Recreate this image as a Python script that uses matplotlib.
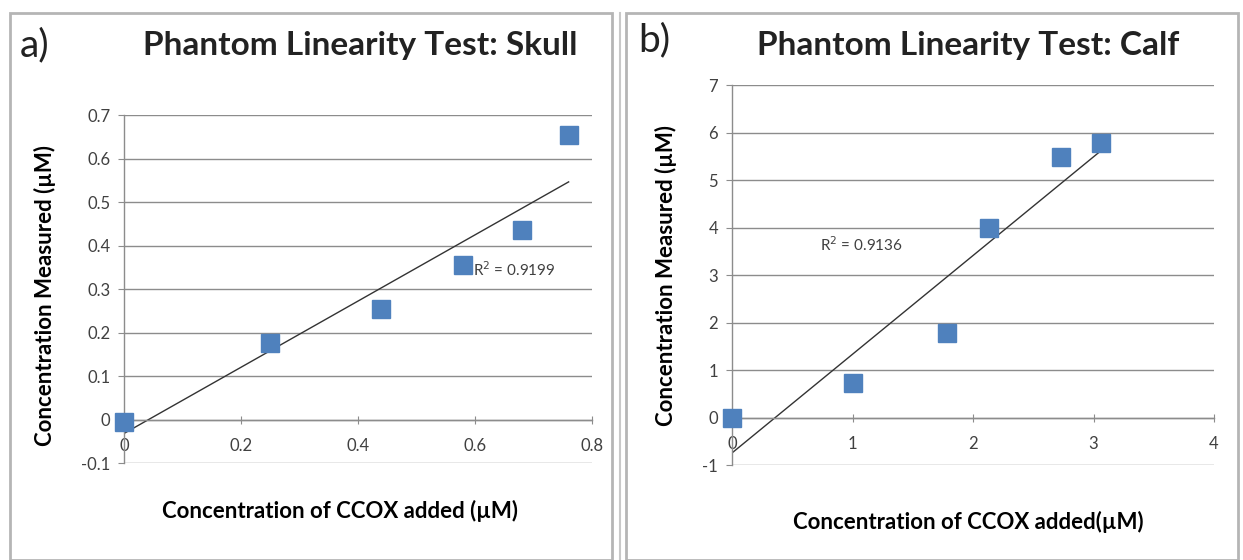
import matplotlib.pyplot as plt
from matplotlib.patches import Rectangle
import numpy as np

plt.rcParams['font.family'] = ['Lato', 'DejaVu Sans']

# skull phantom
skull_x = [0.0, 0.25, 0.44, 0.58, 0.68, 0.76]
skull_y = [-0.005, 0.175, 0.255, 0.355, 0.435, 0.655]
skull_r2 = "R$^2$ = 0.9199"

# calf phantom
calf_x = [0.0, 1.0, 1.78, 2.13, 2.73, 3.06]
calf_y = [0.0, 0.72, 1.78, 4.0, 5.48, 5.78]
calf_r2 = "R$^2$ = 0.9136"

grid_col = '#8c8c8c'
text_col = '#404040'
blue = '#4f81bd'


def style_axes(ax, xlim, ylim, xticks, yticks, xfmt):
    ax.set_xlim(*xlim)
    ax.set_ylim(*ylim)
    ax.set_xticks(xticks)
    ax.set_yticks(yticks)
    ax.set_xticklabels([xfmt(v) for v in xticks])
    ax.set_yticklabels([xfmt(v) for v in yticks])
    for s in ['top', 'right']:
        ax.spines[s].set_visible(False)
    ax.spines['left'].set_color(grid_col)
    ax.spines['bottom'].set_color(grid_col)
    ax.spines['bottom'].set_position(('data', 0))
    ax.spines['left'].set_linewidth(1)
    ax.spines['bottom'].set_linewidth(1)
    ax.yaxis.grid(True, color=grid_col, linewidth=1)
    ax.set_axisbelow(True)
    ax.tick_params(axis='y', direction='out', length=4, color=grid_col,
                   labelcolor=text_col, labelsize=12, pad=6)
    ax.tick_params(axis='x', direction='inout', length=6, color=grid_col,
                   labelcolor=text_col, labelsize=12, pad=10)
    ax.set_facecolor('none')


def fit_line(ax, x, y):
    k, b = np.polyfit(x, y, 1)
    xs = np.array([min(x), max(x)])
    ax.plot(xs, k * xs + b, color='#333333', linewidth=1, zorder=2)


fig = plt.figure(figsize=(12.43, 5.6), dpi=100)

# panel frames
fig.add_artist(Rectangle((10 / 1243, 0), 602 / 1243, 547 / 560, transform=fig.transFigure,
                         fill=False, edgecolor='#b5b5b5', linewidth=2))
fig.add_artist(Rectangle((626 / 1243, 0), 612 / 1243, 547 / 560, transform=fig.transFigure,
                         fill=False, edgecolor='#b5b5b5', linewidth=2))
fig.add_artist(plt.Line2D([620 / 1243, 620 / 1243], [0, 547 / 560], transform=fig.transFigure,
                          color='#c8c8c8', linewidth=1.5))

# a) skull
ax1 = fig.add_axes([0.0998, 0.1732, 0.3765, 0.6214])
style_axes(ax1, (0, 0.8), (-0.1, 0.7), [0, 0.2, 0.4, 0.6, 0.8],
           [-0.1, 0, 0.1, 0.2, 0.3, 0.4, 0.5, 0.6, 0.7],
           lambda v: '0' if v == 0 else f'{v:g}')
fit_line(ax1, skull_x, skull_y)
ax1.plot(skull_x, skull_y, 's', color=blue, markersize=13.5, zorder=3, clip_on=False)
ax1.text(0.597, 0.345, skull_r2, fontsize=11, color=text_col, va='center')
ax1.set_ylabel('Concentration Measured (µM)', fontsize=16, fontweight='bold')
ax1.yaxis.set_label_coords(-0.145, 0.48)
ax1.set_xlabel('Concentration of CCOX added (µM)', fontsize=16, fontweight='bold')
ax1.xaxis.set_label_coords(0.462, -0.105)

fig.text(20 / 1243, 1 - 45 / 560, 'a)', fontsize=28, va='center', color='#222222')
fig.text(360 / 1243, 1 - 45 / 560, 'Phantom Linearity Test: Skull', fontsize=24,
         fontweight='bold', ha='center', va='center', color='#222222')

# b) calf
ax2 = fig.add_axes([0.5889, 0.1696, 0.3878, 0.6786])
style_axes(ax2, (0, 4), (-1, 7), [0, 1, 2, 3, 4], list(range(-1, 8)),
           lambda v: f'{v:g}')
fit_line(ax2, calf_x, calf_y)
ax2.plot(calf_x, calf_y, 's', color=blue, markersize=13.5, zorder=3, clip_on=False)
ax2.text(0.73, 3.63, calf_r2, fontsize=11, color=text_col, va='center')
ax2.set_ylabel('Concentration Measured (µM)', fontsize=16, fontweight='bold')
ax2.yaxis.set_label_coords(-0.114, 0.5)
ax2.set_xlabel('Concentration of CCOX added(µM)', fontsize=16, fontweight='bold')
ax2.xaxis.set_label_coords(0.49, -0.12)

fig.text(638 / 1243, 1 - 40 / 560, 'b)', fontsize=28, va='center', color='#222222')
fig.text(968 / 1243, 1 - 45 / 560, 'Phantom Linearity Test: Calf', fontsize=24,
         fontweight='bold', ha='center', va='center', color='#222222')

fig.savefig('out.png', dpi=100)
